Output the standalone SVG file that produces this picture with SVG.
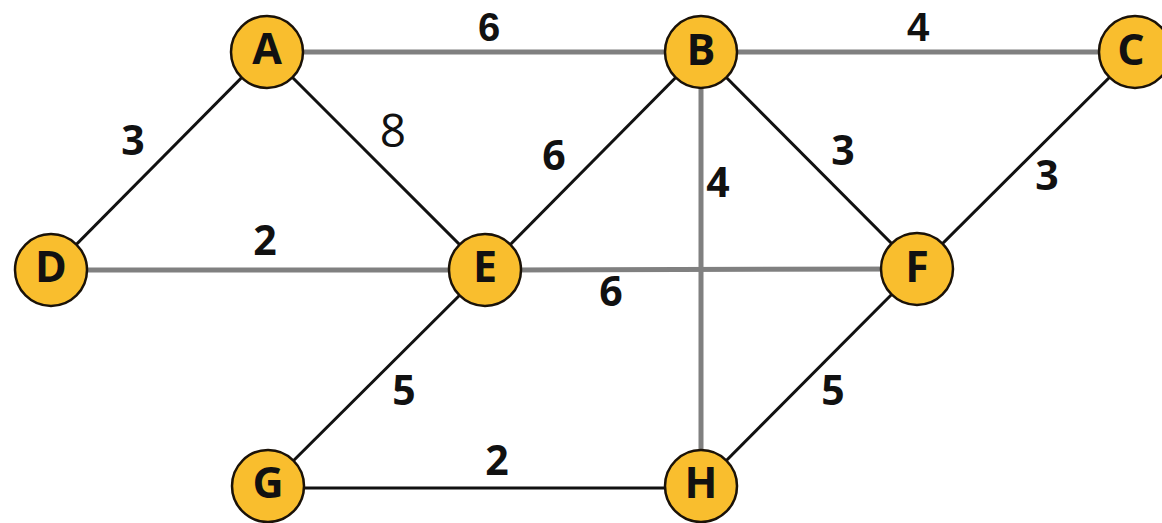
<svg xmlns="http://www.w3.org/2000/svg" width="1162" height="523" viewBox="0 0 1162 523">
<style>
.g{stroke:#808080;stroke-width:5;fill:none}
.k{stroke:#111;stroke-width:3;fill:none}
.n circle{fill:#F9BE2E;stroke:#1a1208;stroke-width:2.5}
.n text{font-family:"Open Sans","DejaVu Sans",sans-serif;font-weight:bold;font-size:43px;fill:#111;text-anchor:middle}
.w{font-family:"Open Sans","DejaVu Sans",sans-serif;font-weight:bold;font-size:41px;fill:#111;text-anchor:middle}
.wt{font-family:"Liberation Sans","Arial",sans-serif;font-weight:bold;font-size:40px;fill:#111;text-anchor:middle}
.w8{font-family:"Open Sans","DejaVu Sans",sans-serif;font-size:46px;fill:#111;text-anchor:middle}
</style>
<rect width="1162" height="523" fill="#fff"/>
<g id="connectors">
<line class="g" x1="267" y1="52" x2="701" y2="52"/>
<line class="g" x1="701" y1="52" x2="1135" y2="52"/>
<line class="g" x1="51" y1="270" x2="485" y2="270"/>
<line class="g" x1="485" y1="270" x2="917" y2="269"/>
<line class="g" x1="701" y1="52" x2="701" y2="486"/>
<line class="k" x1="267" y1="52" x2="51" y2="270"/>
<line class="k" x1="267" y1="52" x2="485" y2="270"/>
<line class="k" x1="701" y1="52" x2="485" y2="270"/>
<line class="k" x1="701" y1="52" x2="917" y2="269"/>
<line class="k" x1="1135" y1="52" x2="917" y2="269"/>
<line class="k" x1="485" y1="270" x2="268" y2="486"/>
<line class="k" x1="917" y1="269" x2="701" y2="486"/>
<line class="k" x1="268" y1="488" x2="701" y2="488"/>
</g>
<g id="labels">
<text class="wt" x="489" y="41">6</text>
<text class="wt" x="918" y="41">4</text>
<text class="w" x="133" y="155">3</text>
<text class="w8" x="393" y="147">8</text>
<text class="w" x="554" y="170">6</text>
<text class="w" x="718" y="197">4</text>
<text class="w" x="843" y="165">3</text>
<text class="w" x="1047" y="190">3</text>
<text class="w" x="265" y="255">2</text>
<text class="w" x="611" y="306">6</text>
<text class="w" x="404" y="405">5</text>
<text class="w" x="833" y="405">5</text>
<text class="w" x="497" y="475">2</text>
</g>
<g id="A" class="n"><circle cx="267" cy="52" r="36"/><text x="267" y="64">A</text></g>
<g id="B" class="n"><circle cx="701" cy="52" r="36"/><text x="701" y="65">B</text></g>
<g id="C" class="n"><circle cx="1135" cy="52" r="36"/><text x="1131" y="65">C</text></g>
<g id="D" class="n"><circle cx="51" cy="270" r="36"/><text x="51" y="282">D</text></g>
<g id="E" class="n"><circle cx="485" cy="270" r="36"/><text x="485" y="282">E</text></g>
<g id="F" class="n"><circle cx="917" cy="269" r="36"/><text x="917" y="282">F</text></g>
<g id="G" class="n"><circle cx="268" cy="486" r="36"/><text x="268" y="498">G</text></g>
<g id="H" class="n"><circle cx="701" cy="486" r="36"/><text x="701" y="498">H</text></g>
</svg>
